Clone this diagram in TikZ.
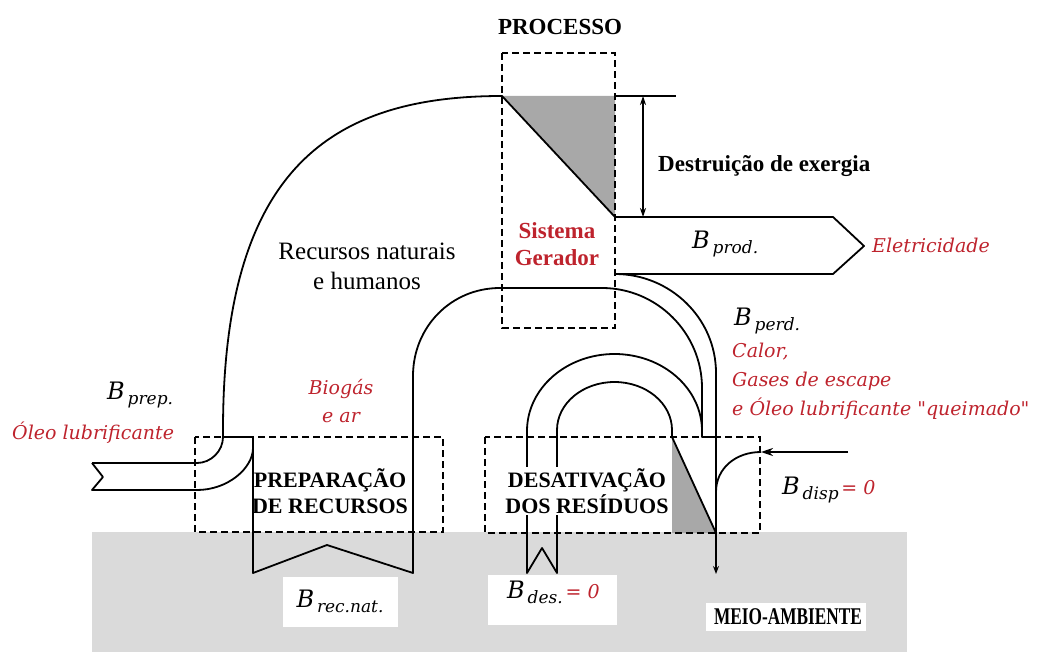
\documentclass[tikz,border=0pt]{standalone}
\usepackage{fontspec}
\setmainfont{Liberation Serif}
\newfontfamily\fonteit{DejaVu Serif}
\usetikzlibrary{arrows.meta}
\definecolor{rotulo}{RGB}{190,35,45}
\definecolor{solo}{RGB}{218,218,218}
\definecolor{sombra}{RGB}{168,168,168}
\newcommand{\exB}[1]{{\fontsize{24}{24}\selectfont B}\,\raisebox{-5pt}{#1}}

\begin{document}
\begin{tikzpicture}[x=1pt,y=-1pt,line width=1.8pt]
    \useasboundingbox (0,0) rectangle (1043,652);

    % 环境(地面)
    \fill[solo] (92,532) rectangle (907,652);
    \fill[white] (283,577) rectangle (398,627);
    \fill[white] (488,575) rectangle (617,625);
    \fill[white] (706,603) rectangle (866,631);

    % 㶲损阴影
    \fill[sombra] (502,96) -- (615,96) -- (615,217) -- cycle;
    \fill[sombra] (672,437) -- (672,533) -- (716,533) -- cycle;

    % 虚线框
    \draw[line width=1.4pt,dash pattern=on 7pt off 4pt] (502,53) rectangle (615,328);
    \draw[line width=1.4pt,dash pattern=on 7pt off 4pt] (195,437) rectangle (443,532);
    \draw[line width=1.4pt,dash pattern=on 7pt off 4pt] (485,437) rectangle (760,533);

    % 外侧流带
    \draw[line join=round] (92,463) -- (197,463) .. controls (211,463) and (223,451) .. (223,437)
        -- (223,430) .. controls (223,170) and (330,96) .. (502,96) -- (615,217)
        -- (833,217) -- (864,246) -- (833,274) -- (615,274);
    \draw[line join=round] (103,477) -- (92,463);
    \draw[line join=round] (103,477) -- (92,490) -- (197,490) .. controls (228,490) and (253,468) .. (253,448);
    \draw (223,437) -- (253,437);

    % 内侧流带
    \draw[line join=round] (253,437) -- (253,573) -- (327,545) -- (413,573) -- (413,376)
        .. controls (413,327) and (451,288) .. (500,288) -- (602,288)
        .. controls (657,288) and (702,333) .. (702,388) -- (702,437) -- (716,437);

    % 㶲损箭头
    \draw (615,96) -- (676,96);
    \draw[{Stealth[length=9pt,width=6pt]}-{Stealth[length=9pt,width=6pt]},line width=1.3pt] (643,96) -- (643,217);

    % 损失流
    \draw (615,274) .. controls (670,274) and (716,318) .. (716,373) -- (716,533);
    \draw[-{Stealth[length=8pt,width=6pt]},line width=1.2pt] (716,533) -- (716,574);

    % 残余物回路
    \draw[line join=round] (672,437) -- (672,430) arc[start angle=0,end angle=-180,x radius=57.5,y radius=48]
        -- (557,573) -- (542,548) -- (527,573) -- (527,431)
        arc[start angle=180,end angle=360,x radius=87.5,y radius=77] -- (702,437);
    \draw (672,437) -- (716,533);

    % 处置
    \draw[-{Stealth[length=12pt,width=8pt]}] (848,452) -- (761,452);
    \draw (761,452) .. controls (736,452) and (716,468) .. (716,492);

    % 文字
    \node[font=\bfseries\fontsize{23}{27}\selectfont] (processo) at (560,27) {PROCESSO};
    \node[font=\bfseries\fontsize{23}{27}\selectfont,anchor=west] (destruicao) at (654,166) {Destruição de exergia};
    \node[font=\bfseries\fontsize{23}{27}\selectfont,text=rotulo,align=center] (gerador) at (557,244) {Sistema\\Gerador};
    \node[font=\fontsize{25}{30}\selectfont,align=center] (recursos) at (367,266) {Recursos naturais\\e humanos};
    \node[font=\fonteit\itshape\fontsize{19}{28}\selectfont,text=rotulo,align=center] (biogas) at (341,401) {Biogás\\e ar};
    \node[font=\fonteit\itshape\fontsize{17}{20}\selectfont,anchor=west] (bprep) at (103,395) {\exB{prep.}};
    \node[font=\fonteit\itshape\fontsize{19}{22}\selectfont,text=rotulo,anchor=west] (oleo) at (8,433) {Óleo lubrificante};
    \node[font=\bfseries\fontsize{22}{26}\selectfont,align=center] (preparacao) at (330,491) {PREPARAÇÃO\\DE RECURSOS};
    \node[font=\bfseries\fontsize{22}{26}\selectfont,align=center,fill=white,inner sep=1pt] (desativacao) at (587,491) {DESATIVAÇÃO\\DOS RESÍDUOS};
    \node[font=\fonteit\itshape\fontsize{17}{20}\selectfont,anchor=west] (bprod) at (688,244) {\exB{prod.}};
    \node[font=\fonteit\itshape\fontsize{19}{22}\selectfont,text=rotulo,anchor=west] (eletricidade) at (868,245) {Eletricidade};
    \node[font=\fonteit\itshape\fontsize{17}{20}\selectfont,anchor=west] (bperd) at (730,321) {\exB{perd.}};
    \node[font=\fonteit\itshape\fontsize{19}{29}\selectfont,text=rotulo,anchor=north west,align=left] (perdas) at (728,339) {Calor,\\Gases de escape\\e Óleo lubrificante "queimado"};
    \node[font=\fonteit\itshape\fontsize{17}{20}\selectfont,anchor=west] (bdisp) at (778,490) {\exB{disp}\,{\color{rotulo}\fontsize{19}{20}\selectfont = 0}};
    \node[font=\fonteit\itshape\fontsize{17}{20}\selectfont] (brecnat) at (340,601) {\exB{rec.nat.}};
    \node[font=\fonteit\itshape\fontsize{17}{20}\selectfont,anchor=west] (bdes) at (503,592) {\exB{des.}\,{\color{rotulo}\fontsize{19}{20}\selectfont = 0}};
    \node[font=\bfseries\fontsize{24}{26}\selectfont] (meio) at (788,617) {\scalebox{0.72}[1]{MEIO-AMBIENTE}};
\end{tikzpicture}
\end{document}
